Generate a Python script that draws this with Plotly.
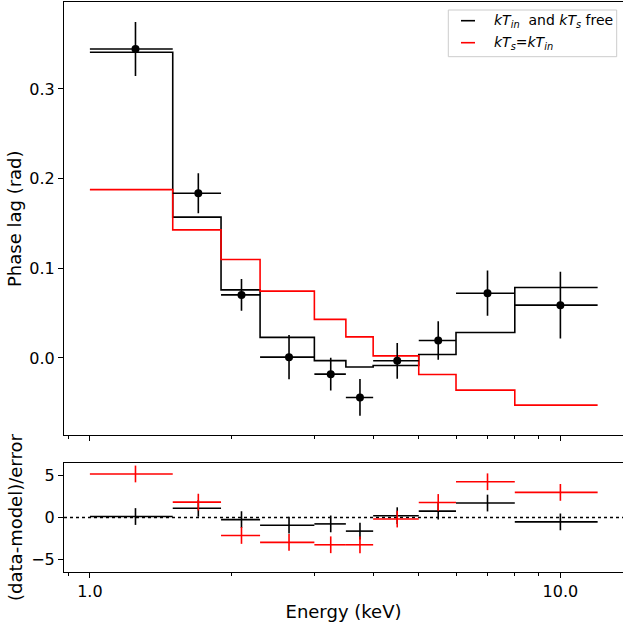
import plotly.graph_objects as go
import math

# ---- data ----
bin_lo = [1.0, 1.5, 1.9, 2.3, 3.0, 3.5, 4.0, 5.0, 6.0, 8.0]
bin_hi = [1.5, 1.9, 2.3, 3.0, 3.5, 4.0, 5.0, 6.0, 8.0, 12.0]
phase_lag = [0.3446, 0.1837, 0.0703, 0.0009, -0.0181, -0.0441, -0.0032, 0.0194, 0.0722, 0.0589]
phase_err = [0.0300, 0.0223, 0.0177, 0.0247, 0.0183, 0.0205, 0.0199, 0.0214, 0.0252, 0.0371]
model_free = [0.3410, 0.1570, 0.0759, 0.0229, -0.0030, -0.0101, -0.0085, 0.0038, 0.0283, 0.0785]
model_tied = [0.1877, 0.1428, 0.1098, 0.0745, 0.0430, 0.0235, 0.0023, -0.0185, -0.0359, -0.0526]
resid_free = [0.12, 1.10, -0.25, -0.92, -0.76, -1.62, 0.22, 0.76, 1.73, -0.52]
resid_tied = [5.20, 1.84, -2.14, -2.96, -3.25, -3.25, -0.18, 1.80, 4.27, 3.00]
resid_err = [1.0] * 10

legend_labels = ["<i>kT</i><sub><i>in</i></sub>\u00a0 and <i>kT</i><sub><i>s</i></sub> free",
                 "<i>kT</i><sub><i>s</i></sub>=<i>kT</i><sub><i>in</i></sub>"]
series_colors = ["black", "red"]

x_ticks = [1.0, 10.0]
x_ticktext = ["1.0", "10.0"]
x_minor = [0.9, 2, 3, 4, 5, 6, 7, 8, 9]
y1_ticks = [0.0, 0.1, 0.2, 0.3]
y1_ticktext = ["0.0", "0.1", "0.2", "0.3"]
y2_ticks = [-5, 0, 5]
y2_ticktext = ["\u22125", "0", "5"]

# ---- derived ----
centers = [(a + b) / 2 for a, b in zip(bin_lo, bin_hi)]
xerr_plus = [b - c for b, c in zip(bin_hi, centers)]
xerr_minus = [c - a for a, c in zip(bin_lo, centers)]
step_x = bin_lo + [bin_hi[-1]]

FONT = "DejaVu Sans"
fig = go.Figure()

# model step lines (top panel)
for vals, col in [(model_free, "black"), (model_tied, "red")]:
    fig.add_trace(go.Scatter(x=step_x, y=vals + [vals[-1]], mode="lines",
                             line=dict(color=col, width=1.6, shape="hv"),
                             xaxis="x", yaxis="y", showlegend=False, hoverinfo="skip"))

# data points (top panel)
fig.add_trace(go.Scatter(
    x=centers, y=phase_lag, mode="markers",
    marker=dict(color="black", size=8),
    error_x=dict(type="data", symmetric=False, array=xerr_plus, arrayminus=xerr_minus,
                 color="black", thickness=1.6, width=0),
    error_y=dict(type="data", array=phase_err, color="black", thickness=1.6, width=0),
    xaxis="x", yaxis="y", showlegend=False))

# residuals (bottom panel)
for vals, col in [(resid_free, "black"), (resid_tied, "red")]:
    fig.add_trace(go.Scatter(
        x=centers, y=vals, mode="markers",
        marker=dict(color=col, size=0.1),
        error_x=dict(type="data", symmetric=False, array=xerr_plus, arrayminus=xerr_minus,
                     color=col, thickness=1.6, width=0),
        error_y=dict(type="data", array=resid_err, color=col, thickness=1.6, width=0),
        xaxis="x2", yaxis="y2", showlegend=False))

xrange = [math.log10(0.881), math.log10(0.881) + 559 / 470.5]
axis_common = dict(type="log", range=xrange, showgrid=False, zeroline=False,
                   showline=True, mirror=True, linecolor="black", linewidth=1,
                   ticks="outside", ticklen=5, tickwidth=1, tickcolor="black",
                   tickmode="array", tickvals=x_ticks,
                   minor=dict(ticks="outside", ticklen=3, tickwidth=1, tickcolor="black",
                              tickmode="array", tickvals=x_minor, showgrid=False),
                   tickfont=dict(family=FONT, size=16, color="black"))

yaxis_common = dict(showgrid=False, zeroline=False, showline=True, mirror=False,
                    linecolor="black", linewidth=1, ticks="outside", ticklen=5,
                    tickwidth=1, tickcolor="black", tickmode="array",
                    tickfont=dict(family=FONT, size=16, color="black"))

fig.update_layout(
    width=623, height=624,
    margin=dict(l=64, r=0, t=2, b=52),
    paper_bgcolor="white", plot_bgcolor="white",
    font=dict(family=FONT, color="black"),
    xaxis=dict(domain=[0, 1], anchor="y", showticklabels=False, **axis_common),
    xaxis2=dict(domain=[0, 1], anchor="y2", showticklabels=True, ticktext=x_ticktext,
                title=dict(text="Energy (keV)", font=dict(family=FONT, size=18), standoff=5),
                **axis_common),
    yaxis=dict(domain=[0.2395, 1], anchor="x", range=[-0.0865, 0.397],
               tickvals=y1_ticks, ticktext=y1_ticktext,
               title=dict(text="Phase lag (rad)", font=dict(family=FONT, size=18), standoff=3),
               **yaxis_common),
    yaxis2=dict(domain=[0, 0.1911], anchor="x2", range=[-6.5, 6.5],
                tickvals=y2_ticks, ticktext=y2_ticktext,
                title=dict(text="(data-model)/error", font=dict(family=FONT, size=18), standoff=3),
                **yaxis_common),
)

# dotted zero line in residual panel
fig.add_shape(type="line", xref="x2 domain", yref="y2", x0=0, x1=1, y0=0, y1=0,
              line=dict(color="black", width=1.5, dash="dot"), layer="below")

# manual legend (matplotlib-like, upper right)
W, H = 559.0, 570.0
def px_x(p):
    return (p - 64) / W
def px_y(p):
    return 1 - (p - 2) / H

fig.add_shape(type="rect", xref="paper", yref="paper",
              x0=px_x(448.3), x1=px_x(616.7), y0=px_y(56.7), y1=px_y(10),
              line=dict(color="#cccccc", width=1), fillcolor="rgba(255,255,255,0.8)")
for i, (lab, col) in enumerate(zip(legend_labels, series_colors)):
    yy = [20.7, 42.7][i]
    fig.add_shape(type="line", xref="paper", yref="paper",
                  x0=px_x(461), x1=px_x(475), y0=px_y(yy), y1=px_y(yy),
                  line=dict(color=col, width=1.6))
    fig.add_annotation(xref="paper", yref="paper", x=px_x(492), y=px_y(yy),
                       xanchor="left", yanchor="middle", showarrow=False,
                       text=lab, font=dict(family=FONT, size=14, color="black"))

fig.write_html("out.html", config={"displayModeBar": False},
               post_script="document.body.style.margin='0';document.body.style.overflow='hidden';")
